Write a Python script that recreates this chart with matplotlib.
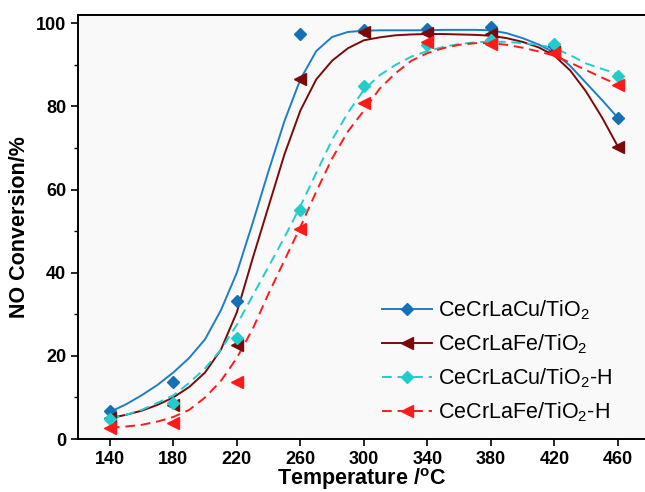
import matplotlib
matplotlib.use("Agg")
import matplotlib.pyplot as plt
from matplotlib.ticker import MultipleLocator

plt.rcParams['font.family'] = ['Liberation Sans', 'DejaVu Sans']
plt.rcParams['mathtext.default'] = 'regular'

# measured points
temps = [140, 180, 220, 260, 300, 340, 380, 420, 460]
cu = [6.7, 13.8, 33.3, 97.5, 98.3, 98.6, 99.0, 94.5, 77.2]
fe = [5.0, 8.2, 22.6, 86.5, 97.8, 97.7, 97.5, 93.0, 70.3]
cu_h = [4.8, 8.7, 24.4, 55.0, 85.0, 94.7, 95.9, 95.0, 87.3]
fe_h = [2.6, 3.8, 13.8, 50.6, 80.7, 95.5, 95.1, 92.9, 85.1]

# fitted curves (every 10 degC)
fit_t = [140, 150, 160, 170, 180, 190, 200, 210, 220, 230, 240, 250, 260, 270, 280, 290, 300,
         310, 320, 330, 340, 350, 360, 370, 380, 390, 400, 410, 420, 430, 440, 450, 460]
cu_fit = [6.5, 8.3, 10.5, 13.0, 16.0, 19.5, 24.0, 31.0, 40.0, 52.0, 64.5, 76.5, 86.5, 93.3, 96.7, 97.9, 98.2,
          98.3, 98.3, 98.3, 98.3, 98.4, 98.4, 98.4, 98.3, 97.6, 96.4, 94.9, 92.9, 89.7, 85.6, 81.5, 77.2]
fe_fit = [5.0, 5.8, 6.8, 8.2, 10.0, 12.5, 16.0, 21.5, 30.5, 43.5, 56.0, 68.5, 79.0, 86.5, 91.0, 94.0, 95.9,
          96.6, 97.1, 97.3, 97.4, 97.4, 97.3, 97.2, 97.0, 96.4, 95.5, 94.2, 92.2, 88.6, 83.5, 77.3, 70.3]
cu_h_fit = [5.0, 5.8, 7.0, 8.7, 10.5, 13.5, 17.0, 21.5, 27.5, 34.5, 41.5, 48.5, 56.0, 64.0, 72.0, 78.5, 84.0,
            87.5, 90.0, 92.0, 93.3, 94.3, 95.0, 95.4, 95.6, 95.5, 95.2, 94.8, 94.0, 92.3, 90.3, 89.0, 87.8]
fe_h_fit = [2.7, 3.0, 3.4, 4.2, 5.3, 7.0, 10.0, 14.0, 19.5, 26.5, 35.0, 43.0, 51.0, 59.5, 67.5, 74.0, 79.0,
            84.3, 88.0, 91.0, 92.8, 94.0, 94.8, 95.2, 95.2, 94.8, 94.1, 93.2, 92.2, 90.5, 88.7, 86.9, 85.2]

labels = ['CeCrLaCu/TiO$_2$', 'CeCrLaFe/TiO$_2$', 'CeCrLaCu/TiO$_2$-H', 'CeCrLaFe/TiO$_2$-H']
xticks = [140, 180, 220, 260, 300, 340, 380, 420, 460]
yticks = [0, 20, 40, 60, 80, 100]

fig = plt.figure(figsize=(6.45, 4.92), dpi=100)
ax = fig.add_axes([0.121, 0.1077, 0.879, 0.862])
ax.set_facecolor('#f9f9f9')

series = [
    (cu, cu_fit, '#1b7fc6', '#1570b5', 'D', 6, '-'),
    (fe, fe_fit, '#7a0a0a', '#7a0a0a', '<', 8, '-'),
    (cu_h, cu_h_fit, '#22cccc', '#22cccc', 'D', 6, (0, (5, 3))),
    (fe_h, fe_h_fit, '#ff1a1a', '#ff1a1a', '<', 8, (0, (5, 3))),
]
handles = []
for (pts, fit, lc, mc, mk, ms, ls), lab in zip(series, labels):
    ax.plot(fit_t, fit, color=lc, lw=1.4, ls=ls, zorder=2)
    ax.plot(temps, pts, ls='none', marker=mk, ms=ms, color=mc, mec=mc, zorder=3)
    h, = ax.plot([], [], color=lc, lw=1.4, ls=ls, marker=mk, ms=ms, mfc=mc, mec=mc)
    handles.append(h)

ax.set_xlim(120, 477)
ax.set_ylim(0, 102)
ax.set_xticks(xticks)
ax.set_yticks(yticks)
ax.yaxis.set_minor_locator(MultipleLocator(10))
ax.tick_params(axis='both', which='major', direction='out', length=5, width=1.2,
               labelsize=12)
ax.tick_params(axis='y', which='minor', direction='out', length=3, width=1.0)
for lab in ax.get_xticklabels() + ax.get_yticklabels():
    lab.set_fontweight('bold')
    lab.set_family(['Liberation Sans Narrow', 'Liberation Sans', 'DejaVu Sans'])
    lab.set_fontsize(13)

for s in ['top', 'left', 'bottom']:
    ax.spines[s].set_linewidth(1.4)
ax.spines['right'].set_visible(False)

ax.set_xlabel('Temperature /$^{o}$C', fontsize=15.5, fontweight='bold', labelpad=-1)
ax.set_ylabel('NO Conversion/%', fontsize=15.5, fontweight='bold', labelpad=4)

leg = ax.legend(handles, labels, loc='upper left', bbox_to_anchor=(0.521, 0.351),
                frameon=False, fontsize=15.5, handlelength=2.3, handletextpad=0.28,
                labelspacing=0.48, numpoints=1, borderaxespad=0)

fig.savefig('out.png', dpi=100)
